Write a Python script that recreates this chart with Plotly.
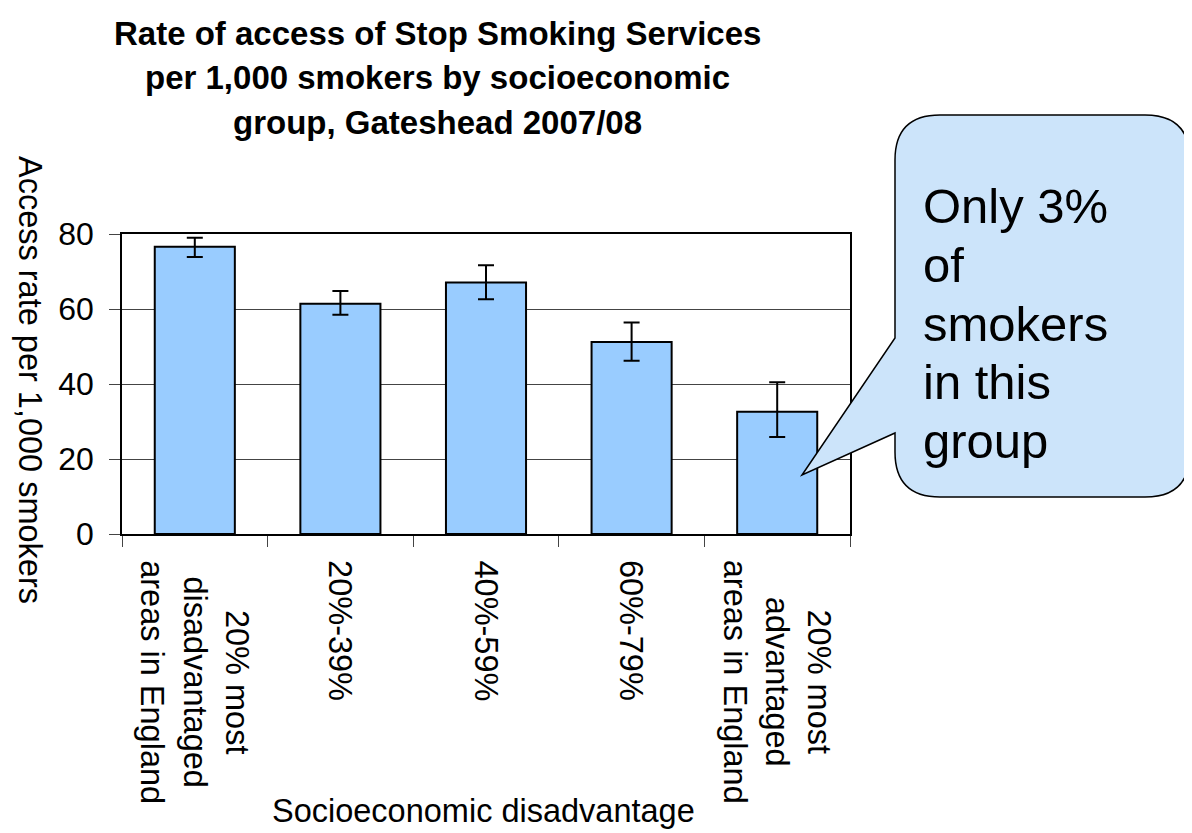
import plotly.graph_objects as go

# ---- data ----
categories = [
    "20% most<br>disadvantaged<br>areas in England",
    "20%-39%",
    "40%-59%",
    "60%-79%",
    "20% most<br>advantaged<br>areas in England",
]
rates = [76.6, 61.4, 67.1, 51.2, 32.6]
ci_upper = [79.0, 64.8, 71.7, 56.4, 40.5]
ci_lower = [73.9, 58.5, 62.6, 46.2, 25.9]
y_ticks = [0, 20, 40, 60, 80]
title_lines = [
    "Rate of access of Stop Smoking Services",
    "per 1,000 smokers by socioeconomic",
    "group, Gateshead 2007/08",
]
y_title = "Access rate per 1,000 smokers"
x_title = "Socioeconomic disadvantage"
callout_lines = ["Only 3%", "of", "smokers", "in this", "group"]

# ---- layout geometry (screen pixels; page body has an 8px margin) ----
OFF = 8
W, H = 1192 - OFF, 833 - OFF
L, R, T, B = 122, 850, 234, 534   # plot area on screen
FONT = "Liberation Sans, Arial, sans-serif"


def px(xp):
    return (xp - L) / (R - L)


def py(yp):
    return (B - yp) / (B - T)


err_plus = [u - r for u, r in zip(ci_upper, rates)]
err_minus = [r - l for r, l in zip(rates, ci_lower)]

fig = go.Figure()
fig.add_trace(go.Bar(
    x=categories, y=rates,
    marker=dict(color="#99CCFF", line=dict(color="black", width=2)),
    width=0.55,
    error_y=dict(type="data", array=err_plus, arrayminus=err_minus,
                 color="black", thickness=2, width=8),
    showlegend=False,
))

fig.update_layout(
    width=W, height=H,
    margin=dict(l=L - OFF, r=W - (R - OFF), t=T - OFF, b=H - (B - OFF), pad=0),
    paper_bgcolor="white", plot_bgcolor="white",
    font=dict(family=FONT, color="black", size=32),
    bargap=0.45,
)
fig.update_xaxes(
    type="category", range=[-0.5, 4.5],
    showticklabels=False, ticks="outside", tickson="boundaries",
    ticklen=11, tickcolor="#444", tickwidth=1,
    showline=True, linecolor="black", linewidth=1.5, mirror=True,
    showgrid=False,
)
fig.update_yaxes(
    range=[0, 80], tickvals=y_ticks, ticktext=[str(v) for v in y_ticks],
    ticks="outside", ticklen=11, tickcolor="#444", tickwidth=1,
    tickfont=dict(size=32), ticklabelstandoff=9,
    showline=True, linecolor="black", linewidth=1.5, mirror=True,
    showgrid=True, gridcolor="#444", gridwidth=1, zeroline=False,
)

annotations = []
# title lines
for i, line in enumerate(title_lines):
    annotations.append(dict(
        text="<b>" + line + "</b>", x=px(437), y=py(33 + 44.5 * i),
        xref="paper", yref="paper", xanchor="center", yanchor="middle",
        showarrow=False, font=dict(size=33, family=FONT),
    ))
# category labels (rotated, centred multi-line)
for c in categories:
    annotations.append(dict(
        text=c, x=c, y=0, xref="x", yref="paper",
        xanchor="center", yanchor="top", yshift=-24,
        textangle=90, align="center", showarrow=False,
        font=dict(size=32.5, family=FONT),
    ))
# axis titles
annotations.append(dict(
    text=y_title, x=px(30), y=py(380), xref="paper", yref="paper",
    xanchor="center", yanchor="middle", textangle=90, showarrow=False,
    font=dict(size=32.5, family=FONT),
))
annotations.append(dict(
    text=x_title, x=px(483), y=py(811), xref="paper", yref="paper",
    xanchor="center", yanchor="middle", showarrow=False,
    font=dict(size=32.5, family=FONT),
))
# callout text, one line each
for i, line in enumerate(callout_lines):
    annotations.append(dict(
        text=line, x=px(921), y=py(206 + 58.75 * i),
        xref="paper", yref="paper", xanchor="left", yanchor="middle",
        align="left", showarrow=False, font=dict(size=49, family=FONT),
    ))
fig.update_layout(annotations=annotations)

# callout balloon shape
x0, x1, y0, y1, rad = 895, 1190, 115, 497, 45
pts = [
    ("M", (x0 + rad, y0)), ("L", (x1 - rad, y0)),
    ("Q", (x1, y0), (x1, y0 + rad)), ("L", (x1, y1 - rad)),
    ("Q", (x1, y1), (x1 - rad, y1)), ("L", (x0 + rad, y1)),
    ("Q", (x0, y1), (x0, y1 - rad)), ("L", (x0, 433)),
    ("L", (802, 475)), ("L", (x0, 338)), ("L", (x0, y0 + rad)),
    ("Q", (x0, y0), (x0 + rad, y0)),
]
path = ""
for p in pts:
    cmd = p[0]
    coords = " ".join(f"{px(a):.5f},{py(b):.5f}" for a, b in p[1:])
    path += f"{cmd} {coords} "
path += "Z"
fig.add_shape(type="path", path=path, xref="paper", yref="paper",
              fillcolor="#CCE4FA", line=dict(color="black", width=1.5),
              layer="above")

fig.write_html("out.html")
